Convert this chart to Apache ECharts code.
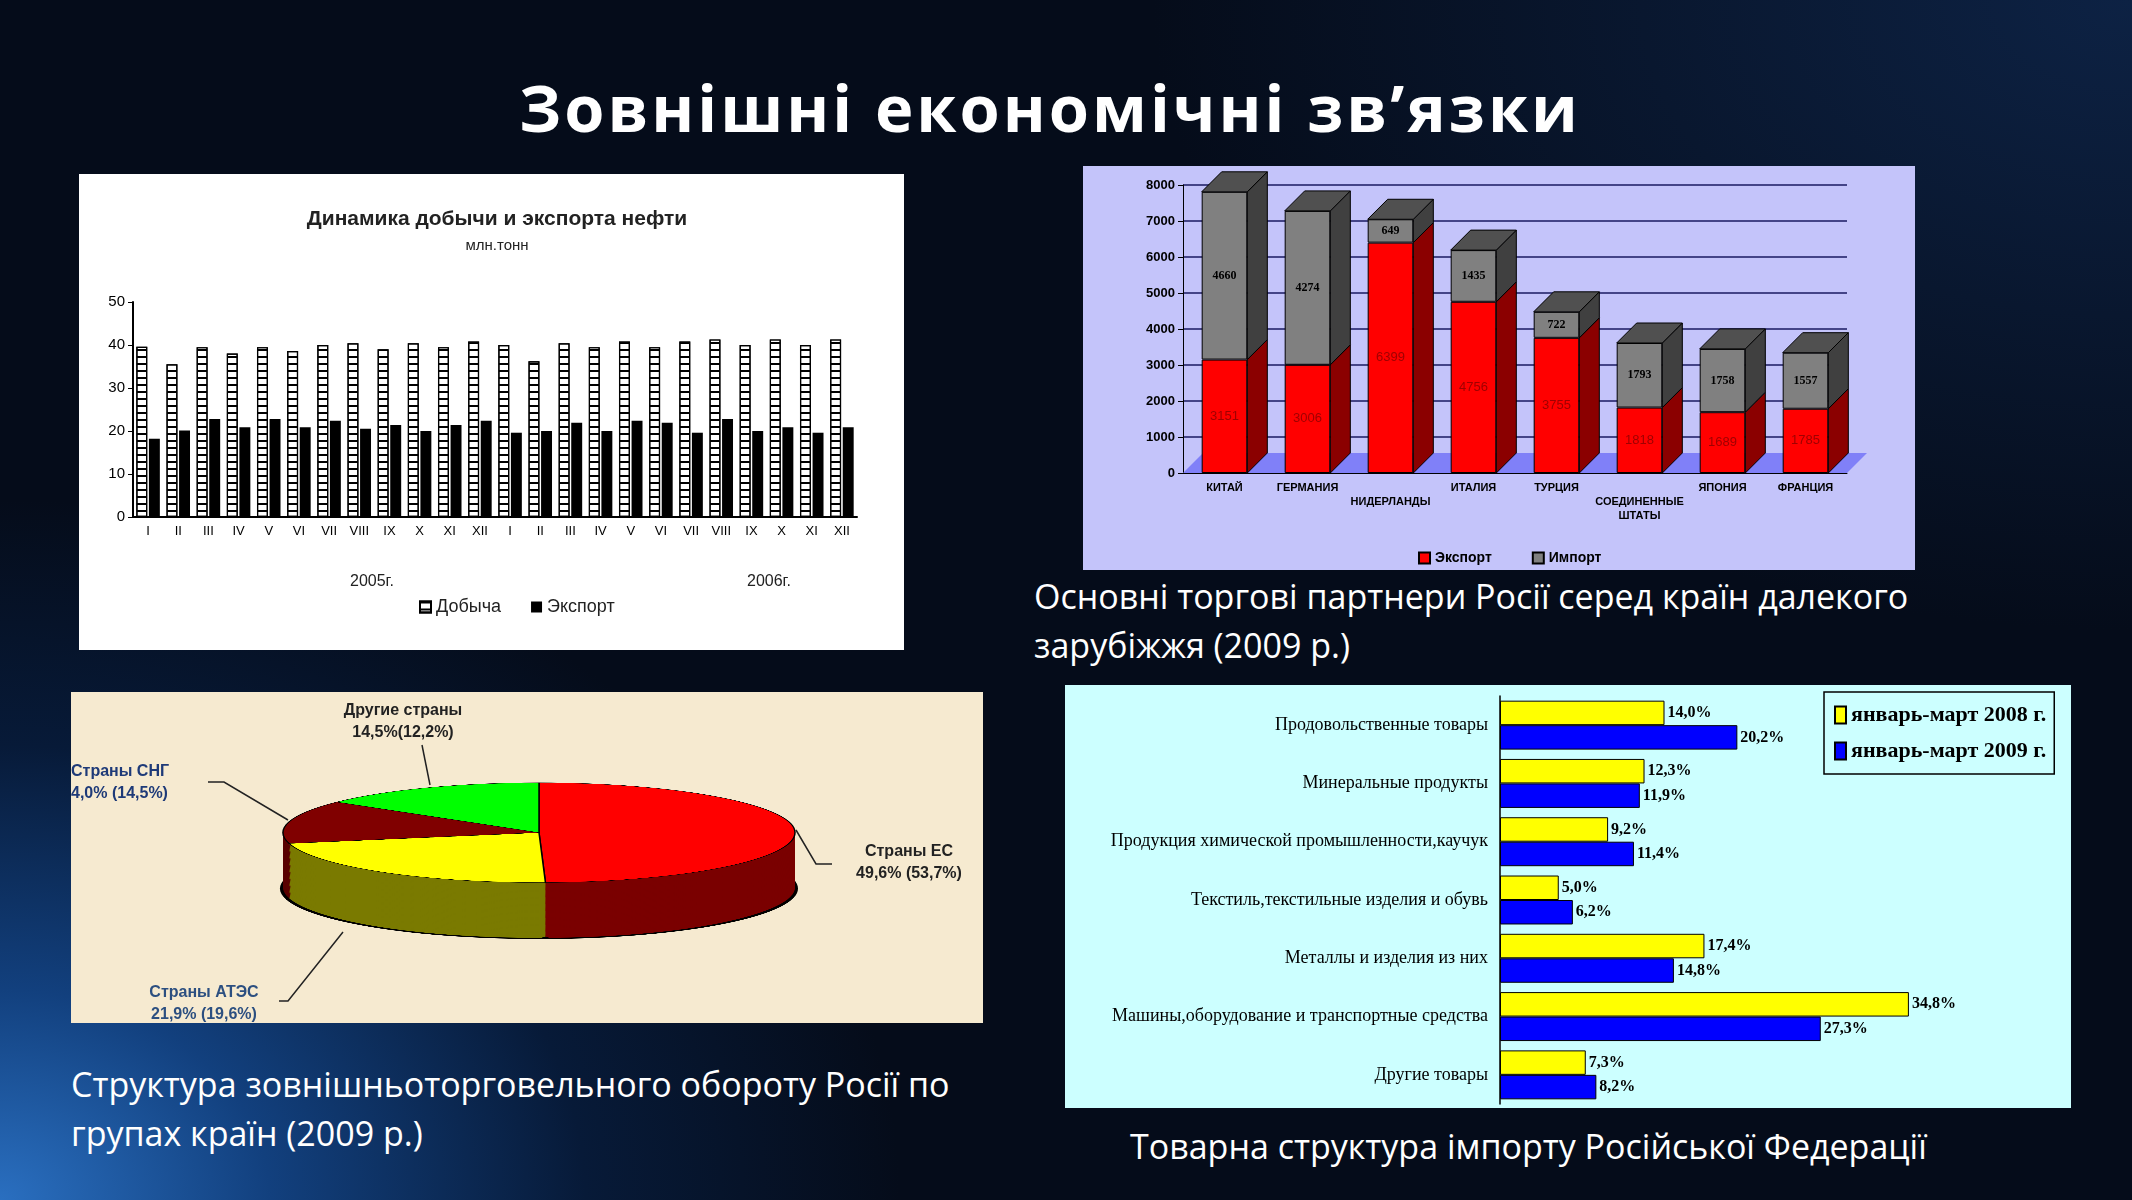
<!DOCTYPE html>
<html>
<head>
<meta charset="utf-8">
<script src="https://cdn.jsdelivr.net/npm/echarts@6/dist/echarts.min.js"></script>
<style>
  body { margin:0; width:2132px; height:1200px; overflow:hidden;
    background: radial-gradient(ellipse 900px 700px at 0% 100%, #2a6fc0 0%, #12407e 30%, #071a38 65%, rgba(4,10,22,0) 100%),
                radial-gradient(ellipse 1400px 900px at 100% 0%, #0d2244 0%, #050c1a 70%), #040a16;
    font-family: "Open Sans", sans-serif; position:relative; }
  .box { position:absolute; }
  .cap { position:absolute; color:#fff; font-size:34px; line-height:49px; }
</style>
</head>
<body>
<div class="cap" style="left:0;width:2100px;top:62px;text-align:center;font-size:65px;font-weight:bold;letter-spacing:3px;line-height:90px">Зовнішні економічні зв’язки</div>
<div id="c1" class="box" style="left:79px;top:174px;width:825px;height:476px;background:#fff"></div>
<div id="c2" class="box" style="left:1083px;top:166px;width:832px;height:404px;background:#c4c4fa"></div>
<div id="c3" class="box" style="left:71px;top:692px;width:912px;height:331px;background:#f6ead0"></div>
<div id="pie" class="box" style="left:259px;top:778px;width:560px;height:860px;transform:scaleY(0.195);transform-origin:0 0"></div>
<div id="c4" class="box" style="left:1065px;top:685px;width:1006px;height:423px;background:#ccffff"></div>
<div class="cap" style="left:1034px;top:572px">Основні торгові партнери Росії серед країн далекого<br>зарубіжжя (2009 р.)</div>
<div class="cap" style="left:71px;top:1060px">Структура зовнішньоторговельного обороту Росії по<br>групах країн (2009 р.)</div>
<div class="cap" style="left:1130px;top:1122px">Товарна структура імпорту Російської Федерації</div>
<script>
// --- дані ---
const months = ["I","II","III","IV","V","VI","VII","VIII","IX","X","XI","XII","I","II","III","IV","V","VI","VII","VIII","IX","X","XI","XII"];
const dobycha = [39.6,35.5,39.5,38,39.5,38.6,40,40.4,39,40.4,39.5,40.8,40,36.2,40.4,39.5,40.8,39.5,40.8,41.3,40,41.3,40,41.3];
const eksport = [18.2,20.1,22.8,20.9,22.8,20.9,22.4,20.5,21.4,20,21.4,22.4,19.6,20,21.9,20,22.4,21.9,19.6,22.8,20,20.9,19.6,20.9];

const partners = ["КИТАЙ","ГЕРМАНИЯ","НИДЕРЛАНДЫ","ИТАЛИЯ","ТУРЦИЯ","СОЕДИНЕННЫЕ\nШТАТЫ","ЯПОНИЯ","ФРАНЦИЯ"];
const partnerExport = [3151,3006,6399,4756,3755,1818,1689,1785];
const partnerImport = [4660,4274,649,1435,722,1793,1758,1557];

// частки секторів, як вони намальовані (СНГ ~14%)
const groups = ["Страны ЕС","Страны АТЭС","Страны СНГ","Другие страны"];
const groupShare = [49.6,21.9,14.0,14.5];

const goods = ["Продовольственные товары","Минеральные продукты","Продукция химической промышленности,каучук","Текстиль,текстильные изделия и обувь","Металлы и изделия из них","Машины,оборудование и транспортные средства","Другие товары"];
const goods2008 = [14.0,12.3,9.2,5.0,17.4,34.8,7.3];
const goods2009 = [20.2,11.9,11.4,6.2,14.8,27.3,8.2];

// --- нафта ---
const chart1 = echarts.init(document.getElementById("c1"));
chart1.setOption({
  animation: false,
  title: { text: "Динамика добычи и экспорта нефти", subtext: "млн.тонн", left: 413, textAlign: "center", top: 30,
    textStyle: { fontFamily: "Liberation Sans", fontSize: 21, fontWeight: "bold", color: "#222" },
    subtextStyle: { fontFamily: "Liberation Sans", fontSize: 15, color: "#222" }, itemGap: 8 },
  grid: { left: 54, top: 128, width: 724, height: 215 },
  xAxis: { type: "category", data: months,
    axisLine: { lineStyle: { color: "#000", width: 2 } }, axisTick: { lineStyle: { color: "#000" } },
    axisLabel: { color: "#000", fontSize: 13, fontFamily: "Liberation Sans", interval: 0 } },
  yAxis: { type: "value", min: 0, max: 50, interval: 10, splitLine: { show: false },
    axisLine: { show: true, lineStyle: { color: "#000", width: 2 } }, axisTick: { show: true, lineStyle: { color: "#000" } },
    axisLabel: { color: "#000", fontSize: 15, fontFamily: "Liberation Sans" } },
  legend: { left: 335, top: 419, itemGap: 30, icon: "rect", itemWidth: 11, itemHeight: 11,
    textStyle: { fontSize: 18, fontFamily: "Liberation Sans", color: "#222" } },
  graphic: [
    { type: "text", left: 271, top: 400, style: { text: "2005г.", fontSize: 16, fontFamily: "Liberation Sans", fill: "#222" } },
    { type: "text", left: 668, top: 400, style: { text: "2006г.", fontSize: 16, fontFamily: "Liberation Sans", fill: "#222" } }
  ],
  series: [
    { name: "Добыча", type: "bar", data: dobycha, barGap: "15%", barCategoryGap: "22%",
      itemStyle: { color: "#fff", borderColor: "#000", borderWidth: 1.2,
        decal: { symbol: "rect", color: "#000", dashArrayX: [1, 0], dashArrayY: [1.2, 5], symbolSize: 1 } } },
    { name: "Экспорт", type: "bar", data: eksport, itemStyle: { color: "#000" } }
  ]
});

// --- партнери ---
const chart2 = echarts.init(document.getElementById("c2"));
const depth = 20;
chart2.setOption({
  animation: false,
  grid: { left: 100, top: 19, width: 664, height: 288 },
  legend: { data: ["Экспорт", "Импорт"], left: 330, top: 380, itemGap: 40, icon: "rect", itemWidth: 11, itemHeight: 11,
    textStyle: { fontSize: 14, fontWeight: "bold", fontFamily: "Liberation Sans", color: "#000" } },
  xAxis: { type: "category", data: partners,
    axisLine: { lineStyle: { color: "#000" } }, axisTick: { lineStyle: { color: "#000" } },
    axisLabel: { interval: 0, color: "#000", fontSize: 11, fontWeight: "bold", fontFamily: "Liberation Sans", lineHeight: 14,
      formatter: (v, i) => (i === 2 || i === 5 ? "\n" + v : v) } },
  yAxis: { type: "value", min: 0, max: 8000, interval: 1000,
    axisLine: { show: true, lineStyle: { color: "#000" } }, axisTick: { show: true, lineStyle: { color: "#000" } },
    splitLine: { lineStyle: { color: "#1a1a60", width: 1.5 } },
    axisLabel: { color: "#000", fontSize: 13, fontWeight: "bold", fontFamily: "Liberation Sans", formatter: (v) => String(v) } },
  series: [
    { name: "Floor", type: "custom", silent: true, z: 1, data: [[0]],
      renderItem: (params, api) => {
        const a = api.coord([0, 0]), w = api.size([1, 0])[0];
        const x0 = a[0] - w / 2, x1 = a[0] + w * 7.5;
        return { type: "polygon", shape: { points: [[x0, a[1]], [x0 + depth, a[1] - depth], [x1 + depth, a[1] - depth], [x1, a[1]]] },
          style: { fill: "#8080f8" } };
      } },
    { name: "Экспорт", type: "bar", stack: "s", data: partnerExport, barWidth: "55%", z: 3,
      itemStyle: { color: "#ff0000", borderColor: "#000", borderWidth: 1 },
      label: { show: true, position: "inside", color: "#a00000", fontSize: 13, fontFamily: "Liberation Sans" } },
    { name: "Импорт", type: "bar", stack: "s", data: partnerImport, z: 3,
      itemStyle: { color: "#808080", borderColor: "#000", borderWidth: 1 },
      label: { show: true, position: "inside", color: "#000", fontSize: 12, fontWeight: "bold", fontFamily: "Liberation Serif" } },
    { name: "3d", type: "custom", silent: true, z: 4,
      data: partners.map((p, i) => [i, partnerExport[i], partnerImport[i]]),
      renderItem: (params, api) => {
        const i = api.value(0), e = api.value(1), m = api.value(2);
        const p0 = api.coord([i, 0]), p1 = api.coord([i, e]), p2 = api.coord([i, e + m]);
        const w = api.size([1, 0])[0] * 0.55;
        const xl = p0[0] - w / 2, xr = p0[0] + w / 2, d = depth;
        const st = (f) => ({ fill: f, stroke: "#000", lineWidth: 1 });
        return { type: "group", children: [
          { type: "polygon", shape: { points: [[xr, p0[1]], [xr + d, p0[1] - d], [xr + d, p1[1] - d], [xr, p1[1]]] }, style: st("#8b0000") },
          { type: "polygon", shape: { points: [[xr, p1[1]], [xr + d, p1[1] - d], [xr + d, p2[1] - d], [xr, p2[1]]] }, style: st("#404040") },
          { type: "polygon", shape: { points: [[xl, p2[1]], [xl + d, p2[1] - d], [xr + d, p2[1] - d], [xr, p2[1]]] }, style: st("#505050") }
        ] };
      } }
  ]
});

// --- кругова діаграма: підписи ---
const chart3 = echarts.init(document.getElementById("c3"));
const lbl = (x, y, t, c, align) => ({ type: "text", x: x, y: y,
  style: { text: t, fill: c, fontSize: 16, fontWeight: "bold", fontFamily: "Liberation Sans", align: align, verticalAlign: "middle", lineHeight: 22 } });
const line = (pts) => ({ type: "polyline", shape: { points: pts }, style: { stroke: "#222", lineWidth: 1.5, fill: null } });
chart3.setOption({
  animation: false,
  graphic: [
    lbl(332, 30, "Другие страны\n14,5%(12,2%)", "#222", "center"),
    lbl(0, 91, "Страны СНГ\n4,0% (14,5%)", "#1e3a78", "left"),
    lbl(838, 171, "Страны ЕС\n49,6% (53,7%)", "#222", "center"),
    lbl(133, 312, "Страны АТЭС\n21,9% (19,6%)", "#2c4f80", "center"),
    line([[351, 53], [359, 93]]),
    line([[137, 90], [153, 90], [217, 128]]),
    line([[725, 138], [745, 172], [761, 172]]),
    line([[208, 309], [217, 309], [272, 240]])
  ]
});

// --- кругова діаграма: 3D ---
const pie = echarts.init(document.getElementById("pie"));
const topColors = ["#ff0000", "#ffff00", "#800000", "#00ff00"];
const sideColors = ["#7a0000", "#7a7a00", "#5a0000", "#007a00"];
const pieSeries = [];
for (let off = 287; off > 0; off -= 6) {
  pieSeries.push({ type: "pie", radius: 256, center: [280, 280 + off], startAngle: 90, silent: true,
    label: { show: false }, labelLine: { show: false },
    data: groups.map((g, i) => ({ name: g, value: groupShare[i],
      itemStyle: { color: sideColors[i], borderColor: off === 287 ? "#000" : sideColors[i], borderWidth: off === 287 ? 6 : 0 } })) });
}
pieSeries.push({ type: "pie", radius: 256, center: [280, 280], startAngle: 90, silent: true,
  label: { show: false }, labelLine: { show: false },
  data: groups.map((g, i) => ({ name: g, value: groupShare[i],
    itemStyle: { color: topColors[i], borderColor: "#000", borderWidth: 1.5 } })) });
pie.setOption({ animation: false, series: pieSeries });

// --- товарна структура ---
const chart4 = echarts.init(document.getElementById("c4"));
const pct = (p) => p.value.toFixed(1).replace(".", ",") + "%";
chart4.setOption({
  animation: false,
  grid: { left: 435, top: 11, width: 470, height: 408 },
  legend: { orient: "vertical", left: 759, top: 7, padding: [12, 8, 12, 10], itemGap: 14,
    borderColor: "#000", borderWidth: 1.5, backgroundColor: "#ccffff", icon: "rect", itemWidth: 11, itemHeight: 17,
    textStyle: { fontSize: 22, fontWeight: "bold", fontFamily: "Liberation Serif", color: "#000" } },
  xAxis: { type: "value", min: 0, max: 40, show: false },
  yAxis: { type: "category", data: goods, inverse: true,
    axisLine: { lineStyle: { color: "#000", width: 1.5 } }, axisTick: { lineStyle: { color: "#000" } },
    axisLabel: { color: "#000", fontSize: 18, fontFamily: "Liberation Serif", margin: 12 } },
  series: [
    { name: "январь-март 2008 г.", type: "bar", data: goods2008, barGap: "0%", barCategoryGap: "16%",
      itemStyle: { color: "#ffff00", borderColor: "#000", borderWidth: 1 },
      label: { show: true, position: "right", formatter: pct, color: "#000", fontSize: 16, fontWeight: "bold", fontFamily: "Liberation Serif", distance: 3 } },
    { name: "январь-март 2009 г.", type: "bar", data: goods2009,
      itemStyle: { color: "#0000ff", borderColor: "#000", borderWidth: 1 },
      label: { show: true, position: "right", formatter: pct, color: "#000", fontSize: 16, fontWeight: "bold", fontFamily: "Liberation Serif", distance: 3 } }
  ]
});
</script>
</body>
</html>
